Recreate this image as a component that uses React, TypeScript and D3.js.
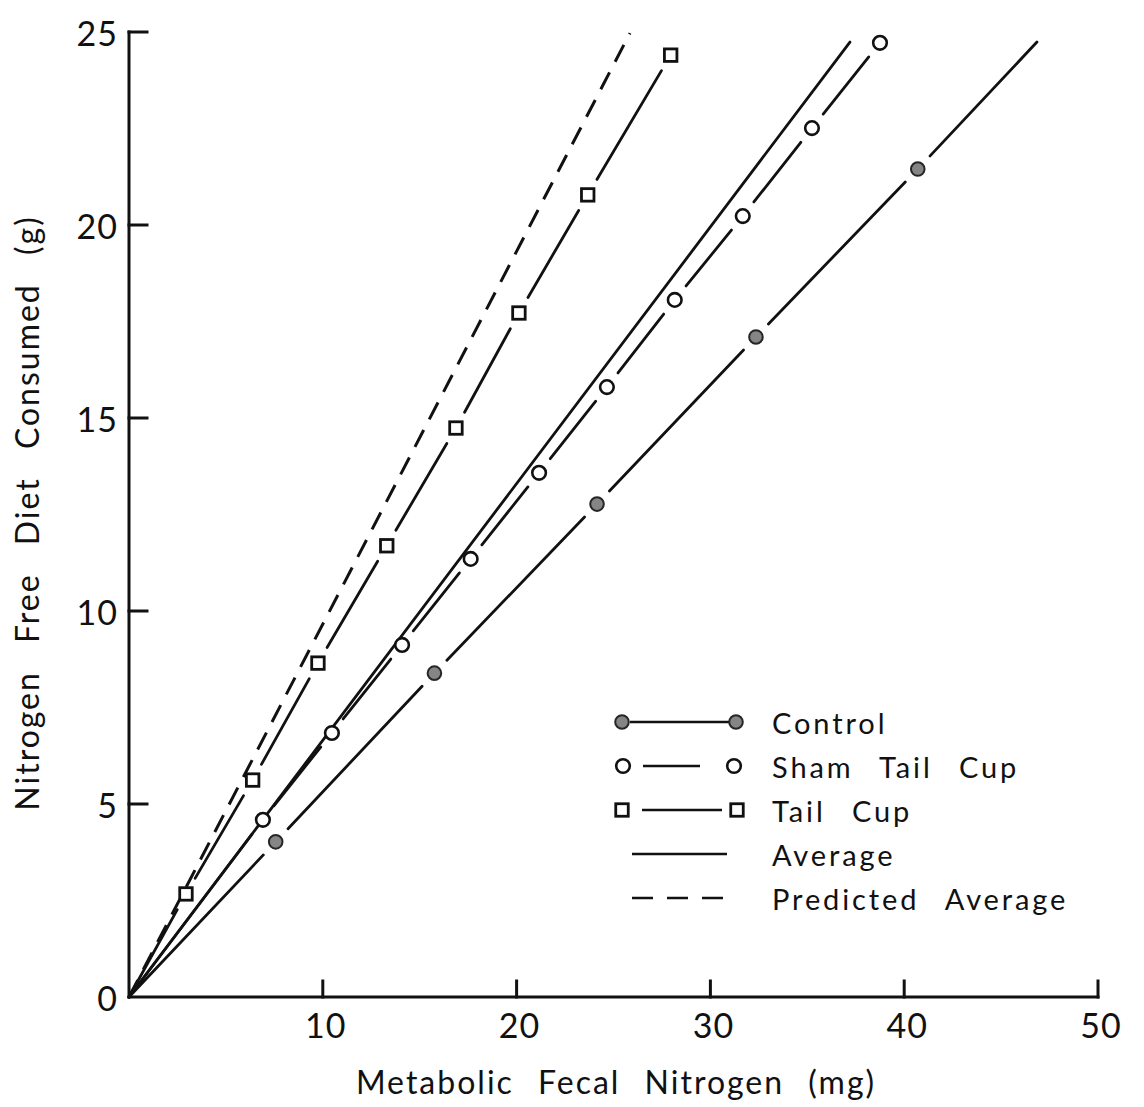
import React from "react";
import * as d3 from "d3";

// Metabolic fecal nitrogen (mg) vs nitrogen-free diet consumed (g)
const controlX = [7.57, 15.76, 24.15, 32.35, 40.7];
const controlY = [4.02, 8.39, 12.77, 17.1, 21.45];
const controlLineEnd: [number, number] = [46.85, 24.74];

const shamX = [6.91, 10.47, 14.09, 17.63, 21.16, 24.66, 28.16, 31.67, 35.24, 38.75];
const shamY = [4.59, 6.84, 9.12, 11.35, 13.58, 15.8, 18.06, 20.23, 22.51, 24.72];

const tailCupX = [2.94, 6.38, 9.75, 13.3, 16.87, 20.12, 23.67, 27.95];
const tailCupY = [2.67, 5.62, 8.65, 11.69, 14.74, 17.72, 20.78, 24.4];

const averageEnd: [number, number] = [37.2, 24.74];
const predictedEnd: [number, number] = [25.85, 24.97];

const xTickValues = [10, 20, 30, 40, 50];
const yTickValues = [0, 5, 10, 15, 20, 25];

const legendLabels = ["Control", "Sham Tail Cup", "Tail Cup", "Average", "Predicted Average"];

const W = 1144;
const H = 1107;
const FONT = "Lato, 'Open Sans', 'DejaVu Sans', sans-serif";
const INK = "#111";

const x = d3.scaleLinear().domain([0, 50]).range([129, 1098]);
const y = d3.scaleLinear().domain([0, 25]).range([997, 32]);

type P = [number, number];
const line = d3.line<P>();

// Break a polyline at its markers, leaving a gap around each one.
function gappedSegments(pts: P[], marked: boolean[], gap: number): P[][] {
  const out: P[][] = [];
  for (let i = 0; i < pts.length - 1; i++) {
    const a = pts[i];
    const b = pts[i + 1];
    const dx = b[0] - a[0];
    const dy = b[1] - a[1];
    const len = Math.hypot(dx, dy);
    const ux = dx / len;
    const uy = dy / len;
    const ga = marked[i] ? gap : 0;
    const gb = marked[i + 1] ? gap : 0;
    if (len <= ga + gb) continue;
    out.push([
      [a[0] + ux * ga, a[1] + uy * ga],
      [b[0] - ux * gb, b[1] - uy * gb],
    ]);
  }
  return out;
}

function seriesPath(xs: number[], ys: number[], end?: P): string[] {
  const pts: P[] = [[x(0), y(0)]];
  const marked = [false];
  xs.forEach((v, i) => {
    pts.push([x(v), y(ys[i])]);
    marked.push(true);
  });
  if (end) {
    pts.push([x(end[0]), y(end[1])]);
    marked.push(false);
  }
  return gappedSegments(pts, marked, 18).map((s) => line(s) as string);
}

function ControlDot({ cx, cy }: { cx: number; cy: number }) {
  return <circle cx={cx} cy={cy} r={6.8} fill="#858585" stroke="#262626" strokeWidth={2} />;
}
function OpenDot({ cx, cy }: { cx: number; cy: number }) {
  return <circle cx={cx} cy={cy} r={6.8} fill="#fff" stroke={INK} strokeWidth={2.6} />;
}
function OpenSquare({ cx, cy }: { cx: number; cy: number }) {
  const s = 12.5;
  return (
    <rect x={cx - s / 2} y={cy - s / 2} width={s} height={s} fill="#fff" stroke={INK} strokeWidth={2.8} />
  );
}

export default function App() {
  const controlSegs = seriesPath(controlX, controlY, controlLineEnd);
  const shamSegs = seriesPath(shamX, shamY);
  const tailSegs = seriesPath(tailCupX, tailCupY);
  const avgPath = line([
    [x(0), y(0)],
    [x(averageEnd[0]), y(averageEnd[1])],
  ]) as string;
  const predPath = line([
    [x(0), y(0)],
    [x(predictedEnd[0]), y(predictedEnd[1])],
  ]) as string;

  const seg = { fill: "none", stroke: INK, strokeWidth: 2.8, strokeLinecap: "round" as const };

  // legend layout
  const lgY0 = 722;
  const lgDy = 44;
  const lgText = 772;

  return (
    <svg
      width={W}
      height={H}
      viewBox={`0 0 ${W} ${H}`}
      style={{ position: "absolute", left: 0, top: 0, display: "block", background: "#fff" }}
    >
      <rect width={W} height={H} fill="#fff" />

      {/* axes */}
      <g stroke={INK} strokeWidth={3} fill="none" strokeLinecap="square">
        <line x1={x(0)} y1={y(0)} x2={x(0)} y2={y(25)} />
        <line x1={x(0)} y1={y(0)} x2={x(50)} y2={y(0)} />
        {yTickValues
          .filter((v) => v > 0)
          .map((v) => (
            <line key={`yt${v}`} x1={x(0)} y1={y(v)} x2={x(0) + 18} y2={y(v)} />
          ))}
        {xTickValues.map((v) => (
          <line key={`xt${v}`} x1={x(v)} y1={y(0)} x2={x(v)} y2={y(0) - 16} />
        ))}
      </g>

      {/* tick labels */}
      <g fontFamily={FONT} fontSize={34} fill={INK} style={{ letterSpacing: "1px" }}>
        {yTickValues.map((v) => (
          <text key={`yl${v}`} x={x(0) - 11} y={y(v)} textAnchor="end" dominantBaseline="central">
            {v}
          </text>
        ))}
        {xTickValues.map((v) => (
          <text key={`xl${v}`} x={x(v) + 3} y={1038} textAnchor="middle">
            {v}
          </text>
        ))}
      </g>

      {/* axis titles */}
      <text
        x={616}
        y={1094}
        textAnchor="middle"
        fontFamily={FONT}
        fontSize={32}
        fill={INK}
        style={{ wordSpacing: "14px", letterSpacing: "2px" }}
      >
        Metabolic Fecal Nitrogen (mg)
      </text>
      <text
        transform="translate(39,513) rotate(-90)"
        textAnchor="middle"
        fontFamily={FONT}
        fontSize={32}
        fill={INK}
        style={{ wordSpacing: "18px", letterSpacing: "2px" }}
      >
        Nitrogen Free Diet Consumed (g)
      </text>

      {/* fitted lines */}
      <path d={predPath} {...seg} strokeWidth={3} strokeDasharray="19 12" strokeLinecap="butt" />
      <path d={avgPath} {...seg} />

      {/* series */}
      {controlSegs.map((d, i) => (
        <path key={`cs${i}`} d={d} {...seg} />
      ))}
      {shamSegs.map((d, i) => (
        <path key={`ss${i}`} d={d} {...seg} />
      ))}
      {tailSegs.map((d, i) => (
        <path key={`ts${i}`} d={d} {...seg} />
      ))}

      {controlX.map((v, i) => (
        <ControlDot key={`c${i}`} cx={x(v)} cy={y(controlY[i])} />
      ))}
      {shamX.map((v, i) => (
        <OpenDot key={`s${i}`} cx={x(v)} cy={y(shamY[i])} />
      ))}
      {tailCupX.map((v, i) => (
        <OpenSquare key={`t${i}`} cx={x(v)} cy={y(tailCupY[i])} />
      ))}

      {/* legend */}
      <g>
        <ControlDot cx={622} cy={lgY0} />
        <line x1={630} y1={lgY0} x2={729} y2={lgY0} stroke={INK} strokeWidth={2.6} />
        <ControlDot cx={736} cy={lgY0} />

        <OpenDot cx={623} cy={lgY0 + lgDy} />
        <line x1={643} y1={lgY0 + lgDy} x2={700} y2={lgY0 + lgDy} stroke={INK} strokeWidth={2.6} />
        <OpenDot cx={734} cy={lgY0 + lgDy} />

        <OpenSquare cx={622} cy={lgY0 + 2 * lgDy} />
        <line x1={642} y1={lgY0 + 2 * lgDy} x2={722} y2={lgY0 + 2 * lgDy} stroke={INK} strokeWidth={2.6} />
        <OpenSquare cx={737} cy={lgY0 + 2 * lgDy} />

        <line x1={632} y1={lgY0 + 3 * lgDy} x2={727} y2={lgY0 + 3 * lgDy} stroke={INK} strokeWidth={2.6} />

        <line
          x1={632}
          y1={lgY0 + 4 * lgDy}
          x2={725}
          y2={lgY0 + 4 * lgDy}
          stroke={INK}
          strokeWidth={2.6}
          strokeDasharray="21 14"
        />

        {legendLabels.map((t, i) => (
          <text
            key={t}
            x={lgText}
            y={lgY0 + i * lgDy}
            dominantBaseline="central"
            fontFamily={FONT}
            fontSize={29}
            fill={INK}
            style={{ wordSpacing: "16px", letterSpacing: "2.9px" }}
          >
            {t}
          </text>
        ))}
      </g>
    </svg>
  );
}
